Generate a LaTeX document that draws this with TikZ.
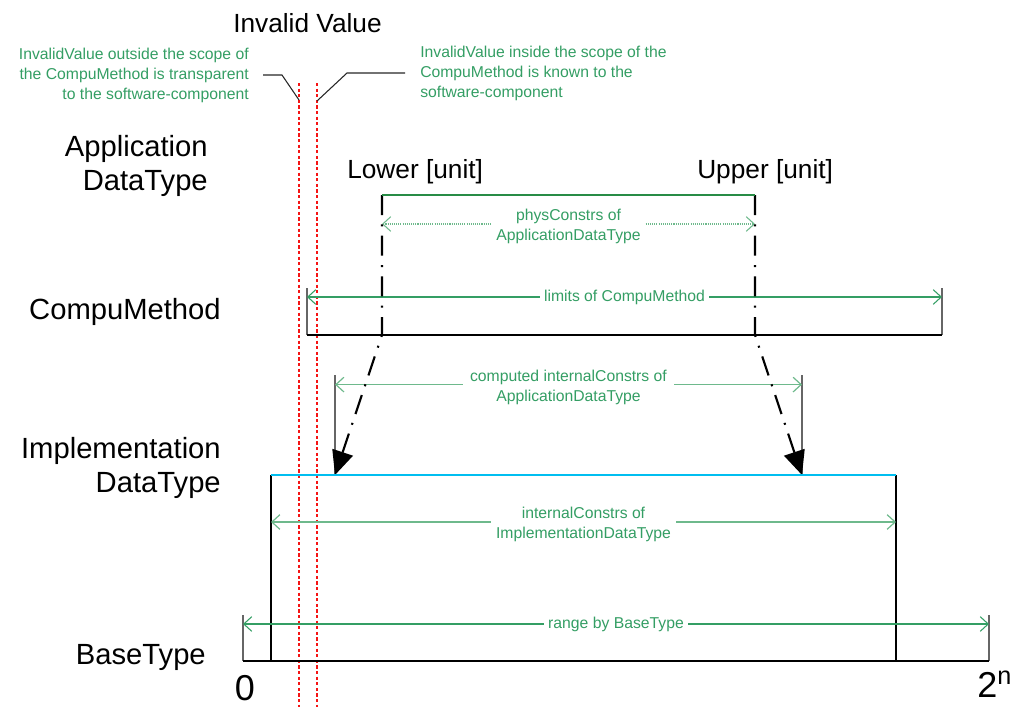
\documentclass[tikz,border=0pt]{standalone}
\usepackage{fontspec}
\setmainfont{Liberation Sans}
\usetikzlibrary{arrows.meta}
\definecolor{lblgreen}{RGB}{52,158,100}
\definecolor{lightgreen}{RGB}{110,185,140}
\definecolor{appgreen}{RGB}{40,140,70}
\definecolor{implcyan}{RGB}{0,190,240}
\definecolor{invred}{RGB}{245,20,20}
\begin{document}
\begin{tikzpicture}[x=0.75pt,y=-0.75pt,
  bigtxt/.style={font=\fontsize{19.7}{23}\selectfont, inner sep=0pt},
  lefttxt/.style={font=\fontsize{21.9}{25.5}\selectfont, inner sep=0pt, align=right},
  grntxt/.style={font=\fontsize{11.8}{15}\selectfont, text=lblgreen, inner sep=0pt},
  dimlbl/.style={grntxt, fill=white, inner xsep=3pt, inner ysep=0.5pt, align=center},
  barb/.tip={Straight Barb[length=6pt,width=11pt]},
  dimarrow/.style={draw=lblgreen, line width=0.8pt, barb-barb},
  lightarrow/.style={draw=lightgreen, line width=0.9pt, barb-barb},
  dotarrow/.style={draw=lightgreen, line width=0.8pt, dash pattern=on 0.8pt off 0.8pt, barb-barb},
  tick/.style={draw=black!60, line width=1pt},
  thinline/.style={draw=black, line width=0.8pt},
  levelline/.style={draw=black, line width=1.7pt},
  redline/.style={draw=invred, line width=2pt, dash pattern=on 2.4pt off 1.8pt},
  leader/.style={draw=black!85, line width=0.8pt},
  dashdotarrow/.style={draw=black, line width=1.6pt, dash pattern=on 15pt off 7pt on 1.5pt off 7pt,
     -{Triangle[length=18pt,width=16pt]}}
]
\useasboundingbox (0,0) rectangle (1015,707);

% ---------- title and annotations ----------
\node[bigtxt, anchor=base west] (title) at (233,32) {Invalid Value};
\node[grntxt, align=right, anchor=east] (outside) at (249,75.8)
  {InvalidValue outside the scope of\\the CompuMethod is transparent\\to the software-component};
\node[grntxt, align=left, anchor=west] (inside) at (420,73.8)
  {InvalidValue inside the scope of the\\CompuMethod is known to the\\software-component};

% ---------- invalid value red lines ----------
\coordinate (redAtop) at (299,83);
\coordinate (redAbot) at (299,707);
\coordinate (redBtop) at (317,83);
\coordinate (redBbot) at (317,707);
\draw[redline] (redAtop) -- (redAbot);
\draw[redline] (redBtop) -- (redBbot);

\coordinate (leadL1) at (263,75);
\coordinate (leadL2) at (282,75);
\coordinate (leadL3) at (299,100);
\draw[leader] (leadL1) -- (leadL2) -- (leadL3);
\coordinate (leadR1) at (317,101);
\coordinate (leadR2) at (347,73);
\coordinate (leadR3) at (405,73);
\draw[leader] (leadR1) -- (leadR2) -- (leadR3);

% ---------- left level labels ----------
\node[lefttxt, anchor=east] (appdt) at (208,165.5) {Application\\DataType};
\node[lefttxt, anchor=base east] (compu) at (221,319) {CompuMethod};
\node[lefttxt, anchor=east] (impldt) at (221,467.5) {Implementation\\DataType};
\node[lefttxt, anchor=base east] (basetype) at (206,664) {BaseType};

% ---------- Application DataType ----------
\node[bigtxt, anchor=base west] (lower) at (347,178) {Lower [unit]};
\node[bigtxt, anchor=base west] (upper) at (697,178) {Upper [unit]};
\coordinate (appL) at (382,195);
\coordinate (appR) at (755,195);
\coordinate (physL) at (382,224);
\coordinate (physR) at (755,224);
\draw[dotarrow] (physL) -- node[dimlbl, yshift=-2pt] (physlbl) {physConstrs of\\ApplicationDataType} (physR);

% ---------- CompuMethod ----------
\coordinate (cmL) at (307,335);
\coordinate (cmR) at (942,335);
\coordinate (cmLt) at (307,288);
\coordinate (cmRt) at (942,288);
\draw[tick] (cmLt) -- (cmL);
\draw[tick] (cmRt) -- (cmR);
\coordinate (limL) at (307,297);
\coordinate (limR) at (942,297);
\draw[dimarrow] (limL) -- node[dimlbl] (limlbl) {limits of CompuMethod} (limR);

% ---------- mapping arrows ----------
\coordinate (lowBend) at (382,335);
\coordinate (upBend) at (755,335);
\coordinate (lowTip) at (335,475);
\coordinate (upTip) at (802,475);

% computed internalConstrs
\coordinate (compLt) at (335,375);
\coordinate (compRt) at (802,375);
\draw[tick] (compLt) -- (lowTip);
\draw[tick] (compRt) -- (upTip);
\coordinate (compL) at (335,384.6);
\coordinate (compR) at (802,384.6);
\draw[lightarrow] (compL) -- node[dimlbl, inner xsep=5pt, yshift=-2pt] (complbl) {computed internalConstrs of\\ApplicationDataType} (compR);

% ---------- Implementation DataType ----------
\coordinate (implL) at (271,475);
\coordinate (implR) at (896,475);
\coordinate (implLb) at (271,661);
\coordinate (implRb) at (896,661);
\draw[thinline] (implL) -- (implLb);
\draw[thinline] (implR) -- (implRb);
\coordinate (intL) at (271,522);
\coordinate (intR) at (896,522);
\draw[lightarrow] (intL) -- node[dimlbl, inner xsep=4pt, yshift=-1.5pt] (intlbl) {internalConstrs of\\ImplementationDataType} (intR);

\draw[dashdotarrow] (appL) -- (lowBend) -- (lowTip);
\draw[dashdotarrow] (appR) -- (upBend) -- (upTip);

% level lines on top
\draw[draw=appgreen, line width=1.8pt] (appL) -- (appR);
\draw[levelline, line width=1.6pt] (cmL) -- (cmR);
\draw[draw=implcyan, line width=2pt] (implL) -- (implR);

% ---------- BaseType ----------
\coordinate (btL) at (243,661);
\coordinate (btR) at (989,661);
\coordinate (btLt) at (243,615);
\coordinate (btRt) at (989,615);
\draw[tick] (btLt) -- (btL);
\draw[tick] (btRt) -- (btR);
\draw[levelline] (btL) -- (btR);
\coordinate (rngL) at (243,624);
\coordinate (rngR) at (989,624);
\draw[dimarrow] (rngL) -- node[dimlbl] (rnglbl) {range by BaseType} (rngR);

\node[font=\fontsize{27}{30}\selectfont, inner sep=0pt, anchor=base] (zero) at (245,700) {0};
\node[font=\fontsize{27}{30}\selectfont, inner sep=0pt, anchor=base west] (twon) at (977,697) {2\textsuperscript{n}};
\end{tikzpicture}
\end{document}
